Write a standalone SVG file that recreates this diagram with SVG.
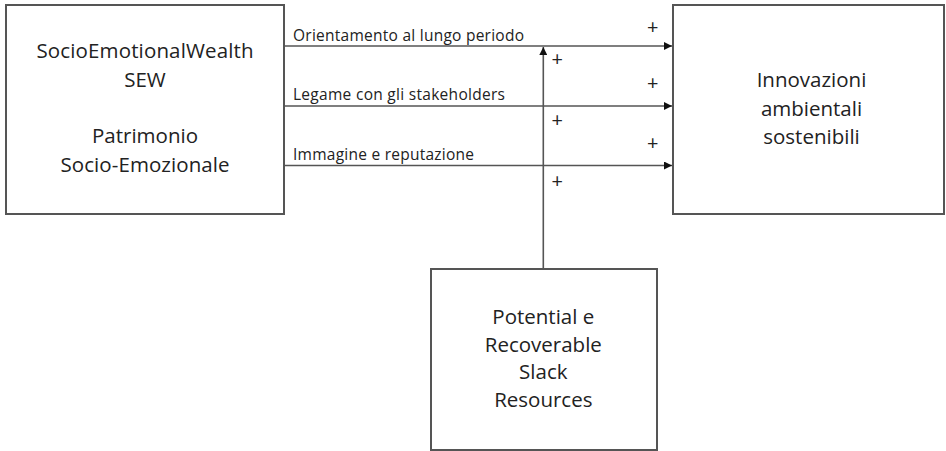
<svg xmlns="http://www.w3.org/2000/svg" width="946" height="451" viewBox="0 0 946 451">
<defs>
<style>
.box{fill:#fff;stroke:#555;stroke-width:2}
.big{font-family:"Open Sans","Liberation Sans",Arial,sans-serif;font-size:20.5px;fill:#222;text-anchor:middle}
.lbl{font-family:"Open Sans","Liberation Sans",Arial,sans-serif;font-size:15.5px;fill:#222}
.pl{font-family:"Open Sans","Liberation Sans",Arial,sans-serif;font-size:20px;fill:#222;text-anchor:middle}
.ln{stroke:#555;stroke-width:1.6;fill:none}
</style>
<marker id="ah" viewBox="0 0 10 10" refX="10" refY="5" markerWidth="8" markerHeight="8" markerUnits="userSpaceOnUse" orient="auto">
<path d="M0,0 L10,5 L0,10 z" fill="#111"/>
</marker>
</defs>
<rect width="946" height="451" fill="#fff"/>
<g id="connectors">
<line class="ln" x1="285" y1="46" x2="672" y2="46" marker-end="url(#ah)"/>
<line class="ln" x1="285" y1="106" x2="672" y2="106" marker-end="url(#ah)"/>
<line class="ln" x1="285" y1="165.5" x2="672" y2="165.5" marker-end="url(#ah)"/>
<line class="ln" x1="543.3" y1="269" x2="543.3" y2="47" marker-end="url(#ah)"/>
<text class="lbl" x="293" y="40.5" textLength="231">Orientamento al lungo periodo</text>
<text class="lbl" x="293" y="99.5" textLength="212">Legame con gli stakeholders</text>
<text class="lbl" x="293" y="160" textLength="181">Immagine e reputazione</text>
<text class="pl" x="652.7" y="33.5">+</text>
<text class="pl" x="652.7" y="89.5">+</text>
<text class="pl" x="652.7" y="150">+</text>
<text class="pl" x="557.3" y="65.5">+</text>
<text class="pl" x="557.3" y="126.5">+</text>
<text class="pl" x="557.3" y="188">+</text>
</g>
<g id="sew">
<rect class="box" x="6" y="5" width="278" height="209"/>
<text class="big" x="145" y="58" textLength="217">SocioEmotionalWealth</text>
<text class="big" x="145" y="87">SEW</text>
<text class="big" x="145" y="143">Patrimonio</text>
<text class="big" x="145" y="172" textLength="169">Socio-Emozionale</text>
</g>
<g id="innovazioni">
<rect class="box" x="673" y="5" width="271" height="209"/>
<text class="big" x="811.5" y="87">Innovazioni</text>
<text class="big" x="811.5" y="116">ambientali</text>
<text class="big" x="811.5" y="144">sostenibili</text>
</g>
<g id="slack">
<rect class="box" x="431" y="269" width="226" height="181"/>
<text class="big" x="543.3" y="324">Potential e</text>
<text class="big" x="543.3" y="352">Recoverable</text>
<text class="big" x="543.3" y="379">Slack</text>
<text class="big" x="543.3" y="407">Resources</text>
</g>
</svg>
